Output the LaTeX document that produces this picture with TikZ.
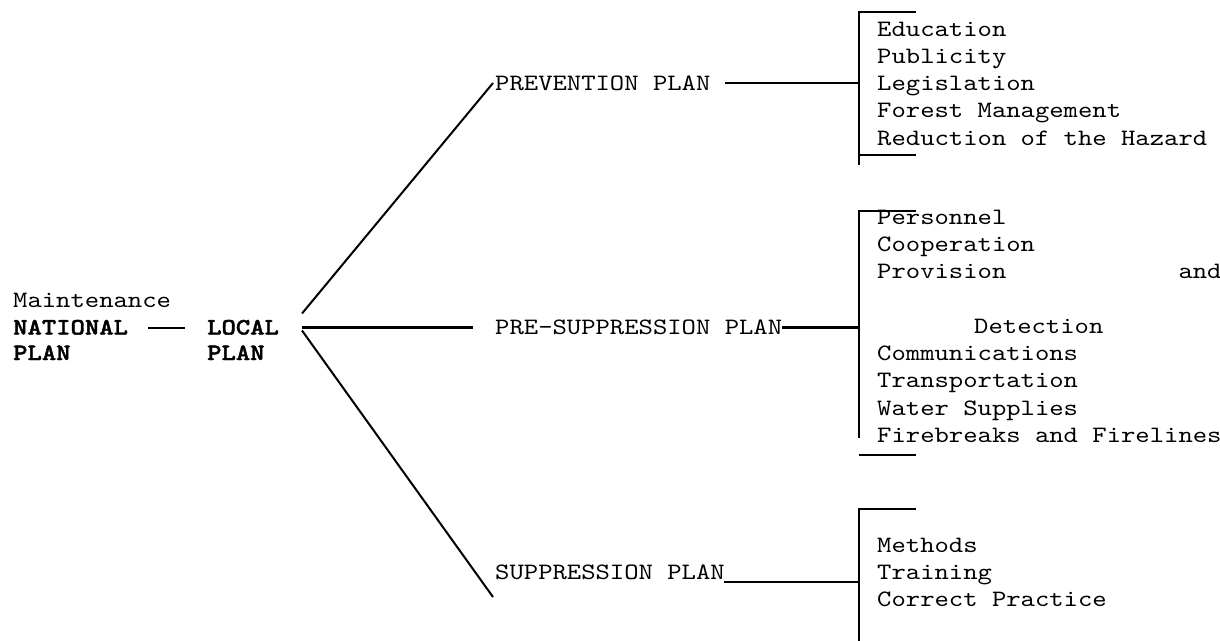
\documentclass[tikz,border=0pt]{standalone}
\usepackage{fontspec}
\setmainfont{lmmono10-regular.otf}[BoldFont=lmmonolt10-bold.otf, BoldFeatures={FakeBold=1.6}, FakeStretch=1.163]
\begin{document}
\begin{tikzpicture}[x=1pt,y=-1pt,
  txt/.style={inner sep=0pt, anchor=west, text height=14pt, text depth=0pt, font=\fontsize{23.5}{27.3}\selectfont},
  bld/.style={txt, font=\fontsize{23.5}{27.3}\selectfont\bfseries},
  thickline/.style={line width=2.7pt},
  thinline/.style={line width=2pt}]
\useasboundingbox (0,0) rectangle (1220,640);

% left labels
\node[txt] (mt) at (13,300) {Maintenance};
\node[bld] (nat) at (13,327.5) {NATIONAL};
\node[bld] (natp) at (13,353) {PLAN};
\node[bld] (loc) at (207,327.5) {LOCAL};
\node[bld] (locp) at (207,353) {PLAN};

% plan labels
\node[txt] (pv) at (495,83) {PREVENTION PLAN};
\node[txt] (ps) at (495,327.5) {PRE-SUPPRESSION PLAN};
\node[txt] (su) at (495,572) {SUPPRESSION PLAN};

% bracket junctions
\coordinate (b1) at (859,83);
\coordinate (b2) at (859,327.5);
\coordinate (b3) at (859,582);

% connectors
\draw[thinline] (nat.east -| 148,0) -- (loc.west -| 185,0);
\draw[thinline] ([yshift=14pt]loc.east -| 302,0) -- ([xshift=-2pt]pv.west);
\draw[thickline] (loc.east -| 302,0) -- (ps.west -| 473,0);
\draw[thinline] ([yshift=-3pt]loc.east -| 302,0) -- ([xshift=-2pt,yshift=-25pt]su.west);
\draw[thickline] (pv.east -| 725,0) -- (b1);
\draw[thickline] (ps.east -| 782,0) -- (b2);
\draw[thickline] ([yshift=-10pt]su.east -| 724,0) -- (b3);

% brackets
\draw[thickline] (b1) ++(57,-71) -- ++(-57,0) -- ++(0,153);
\draw[thickline] (b1) ++(0,72) -- ++(57,0);
\draw[thickline] (b2) ++(57,-116.5) -- ++(-57,0) -- ++(0,227);
\draw[thickline] (b2) ++(0,127.5) -- ++(57,0);
\draw[thickline] (b3) ++(57,-73) -- ++(-57,0) -- ++(0,134);

% prevention list
\node[txt] (e1) at (877,29) {Education};
\node[txt] (e2) at (877,56.3) {Publicity};
\node[txt] (e3) at (877,83.6) {Legislation};
\node[txt] (e4) at (877,110.9) {Forest Management};
\node[txt] (e5) at (877,138.2) {Reduction of the Hazard};

% pre-suppression list
\node[txt] (r1) at (877,217) {Personnel};
\node[txt] (r2) at (877,244.3) {Cooperation};
\node[txt] (r3) at (877,271.6) {Provision\ \ \ \ \ \ \ \ \ \ \ \ and};
\node[txt] (r4) at (974,326.2) {Detection};
\node[txt] (r5) at (877,353.5) {Communications};
\node[txt] (r6) at (877,380.8) {Transportation};
\node[txt] (r7) at (877,408.1) {Water Supplies};
\node[txt] (r8) at (877,435.4) {Firebreaks and Firelines};

% suppression list
\node[txt] (s1) at (877,545) {Methods};
\node[txt] (s2) at (877,572.3) {Training};
\node[txt] (s3) at (877,599.6) {Correct Practice};
\end{tikzpicture}
\end{document}
